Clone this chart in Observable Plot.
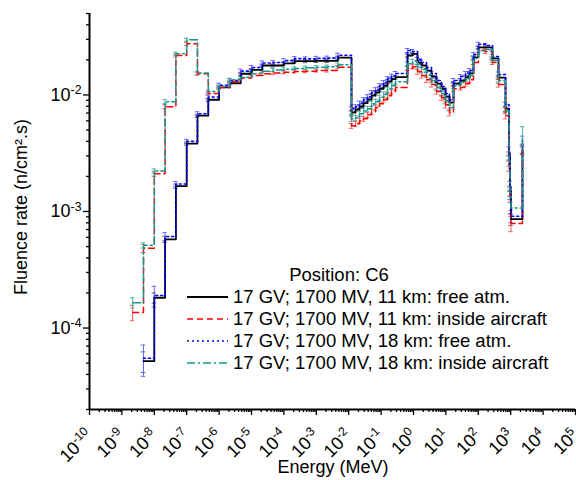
<!DOCTYPE html>
<html><head><meta charset="utf-8">
<script src="https://cdn.jsdelivr.net/npm/d3@7"></script>
<script src="https://cdn.jsdelivr.net/npm/@observablehq/plot@0.6"></script>
<style>
body{margin:0;background:#fff;}
#chart{position:relative;width:576px;height:480px;}
</style></head><body><div id="chart"></div>
<script>
// Energy of each step start (MeV)
const energy = [2.15e-9, 4.64e-9, 1e-8, 2.15e-8, 4.64e-8, 1e-7, 2.15e-7, 4.64e-7, 1e-6, 2.15e-6,
  4.64e-6, 1e-5, 2.15e-5, 4.64e-5, 1e-4, 2.15e-4, 4.64e-4, 1e-3, 2.15e-3, 4.64e-3,
  0.0122, 0.0162, 0.0215, 0.0286, 0.0380, 0.0506, 0.0671, 0.0893, 0.119, 0.158,
  0.209, 0.278, 0.653, 0.931, 1.33, 1.77, 2.52, 3.60, 5.13, 7.31,
  9.72, 12.9, 17.2, 28.2, 40.3, 53.5, 71.1, 101, 167, 274,
  420, 692, 887, 951, 1020, 2310];

const free11 = [null, 5.2e-5, 1.82e-4, 5.77e-4, 1.65e-3, 3.83e-3, 6.64e-3, 9.1e-3, 0.0116, 0.0126,
  0.0152, 0.0164, 0.0179, 0.0179, 0.0187, 0.0195, 0.0195, 0.0196, 0.0196, 0.0209,
  0.00704, 0.00747, 0.00792, 0.00850, 0.00911, 0.00986, 0.0105, 0.0113, 0.0120, 0.0130,
  0.0137, 0.0142, 0.0218, 0.0225, 0.0190, 0.0179, 0.0162, 0.0144, 0.0125, 0.0113,
  0.00966, 0.00858, 0.0125, 0.0133, 0.0142, 0.0153, 0.0210, 0.0256, 0.0256, 0.0206,
  0.0141, 0.00762, 0.00300, 0.00150, 0.00086, 0.00344];

const inside11 = [1.36e-4, 4.83e-4, 2.11e-3, 7.93e-3, 0.0218, 0.0275, 0.0152, 0.0103, 0.0116, 0.0130,
  0.0140, 0.0147, 0.0152, 0.0154, 0.0157, 0.0159, 0.0160, 0.0162, 0.0162, 0.0173,
  0.00544, 0.00566, 0.00601, 0.00625, 0.00676, 0.00718, 0.00777, 0.00841, 0.00911, 0.00986,
  0.0107, 0.0116, 0.0169, 0.0175, 0.0159, 0.0147, 0.0135, 0.0123, 0.0107, 0.00948,
  0.00824, 0.00704, 0.0113, 0.0116, 0.0125, 0.0135, 0.0190, 0.0241, 0.0236, 0.0190,
  0.0123, 0.00663, 0.00246, 0.00136, 0.00079, 0.00344];

const free18 = [null, 5.5e-5, 1.9e-4, 6.1e-4, 1.72e-3, 4.0e-3, 6.9e-3, 9.6e-3, 0.0121, 0.0133,
  0.0160, 0.0172, 0.0188, 0.0190, 0.0197, 0.0205, 0.0204, 0.0206, 0.0207, 0.0219,
  0.00762, 0.00792, 0.00850, 0.00911, 0.00966, 0.0105, 0.0111, 0.0120, 0.0128, 0.0138,
  0.0145, 0.0153, 0.0241, 0.0236, 0.0202, 0.0190, 0.0172, 0.0153, 0.0133, 0.0118,
  0.0103, 0.00911, 0.0133, 0.0144, 0.0153, 0.0162, 0.0222, 0.0272, 0.0266, 0.0214,
  0.0150, 0.00824, 0.00331, 0.00165, 0.00091, 0.00403];

const inside18 = [1.65e-4, 5.13e-4, 2.23e-3, 8.75e-3, 0.0226, 0.0298, 0.0154, 0.0107, 0.0118, 0.0135,
  0.0142, 0.0152, 0.0160, 0.0164, 0.0166, 0.0169, 0.0171, 0.0173, 0.0175, 0.0182,
  0.00625, 0.00637, 0.00690, 0.00732, 0.00762, 0.00841, 0.00875, 0.00948, 0.0101, 0.0111,
  0.0120, 0.0130, 0.0186, 0.0194, 0.0175, 0.0165, 0.0150, 0.0133, 0.0116, 0.0103,
  0.00893, 0.00777, 0.0120, 0.0128, 0.0138, 0.0147, 0.0206, 0.0241, 0.0246, 0.0198,
  0.0133, 0.00732, 0.00271, 0.00144, 0.00107, 0.00445];

// relative uncertainties (error bars)
const errFree11 = [0, 0.2, 0.1, 0.06, 0.04, 0.03, 0.03, 0.03, 0.03, 0.03,
  0.03, 0.03, 0.03, 0.03, 0.03, 0.03, 0.03, 0.03, 0.03, 0.03,
  0.04, 0.04, 0.04, 0.04, 0.04, 0.04, 0.04, 0.04, 0.04, 0.04,
  0.04, 0.04, 0.03, 0.03, 0.04, 0.04, 0.04, 0.04, 0.04, 0.04,
  0.05, 0.05, 0.04, 0.04, 0.04, 0.04, 0.03, 0.03, 0.03, 0.03,
  0.04, 0.05, 0.08, 0.1, 0.12, 0.1];
const errInside11 = [0.15, 0.08, 0.05, 0.04, 0.03, 0.03, 0.03, 0.03, 0.03, 0.03,
  0.03, 0.03, 0.03, 0.03, 0.03, 0.03, 0.03, 0.03, 0.03, 0.03,
  0.05, 0.05, 0.05, 0.05, 0.05, 0.05, 0.05, 0.05, 0.05, 0.05,
  0.05, 0.05, 0.04, 0.04, 0.05, 0.05, 0.05, 0.05, 0.05, 0.05,
  0.06, 0.06, 0.05, 0.05, 0.05, 0.05, 0.04, 0.04, 0.04, 0.04,
  0.05, 0.06, 0.1, 0.12, 0.15, 0.08];
const errFree18 = [0, 0.3, 0.2, 0.08, 0.05, 0.04, 0.04, 0.04, 0.04, 0.04,
  0.04, 0.04, 0.04, 0.04, 0.04, 0.04, 0.04, 0.04, 0.04, 0.04,
  0.04, 0.04, 0.04, 0.04, 0.04, 0.04, 0.04, 0.04, 0.04, 0.04,
  0.04, 0.04, 0.04, 0.04, 0.04, 0.04, 0.04, 0.04, 0.04, 0.04,
  0.05, 0.05, 0.04, 0.04, 0.04, 0.04, 0.04, 0.04, 0.04, 0.04,
  0.05, 0.05, 0.08, 0.1, 0.12, 0.1];
const errInside18 = [0.1, 0.05, 0.04, 0.04, 0.03, 0.03, 0.03, 0.03, 0.03, 0.03,
  0.03, 0.03, 0.03, 0.03, 0.03, 0.03, 0.03, 0.03, 0.03, 0.03,
  0.05, 0.05, 0.05, 0.05, 0.05, 0.05, 0.05, 0.05, 0.05, 0.05,
  0.05, 0.05, 0.04, 0.04, 0.05, 0.05, 0.05, 0.05, 0.05, 0.05,
  0.06, 0.06, 0.05, 0.05, 0.05, 0.05, 0.04, 0.04, 0.04, 0.04,
  0.05, 0.06, 0.1, 0.12, 0.12, 0.2];

const seriesNames = [
  "17 GV; 1700 MV, 11 km: free atm.",
  "17 GV; 1700 MV, 11 km: inside aircraft",
  "17 GV; 1700 MV, 18 km: free atm.",
  "17 GV; 1700 MV, 18 km: inside aircraft"];
const seriesValues = [free11, inside11, free18, inside18];
const seriesErrors = [errFree11, errInside11, errFree18, errInside18];
const seriesColors = ["#000000", "#ff0000", "#0000ff", "#1a978c"];
const errorColors = ["#606060", "#ff5a5a", "#6a6aff", "#4fb3aa"];
const seriesDash = [null, "6,4", "2,3", "8,3,2,3"];
const seriesWidth = [1.8, 1.5, 1.6, 1.5];

const legendTitle = "Position: C6";
const xLabel = "Energy (MeV)";
const yLabel = "Fluence rate (n/cm\u00b2.s)";
const xMajorTicks = [1e-10,1e-9,1e-8,1e-7,1e-6,1e-5,1e-4,1e-3,1e-2,1e-1,1e0,1e1,1e2,1e3,1e4,1e5];
const yMajorTicks = [1e-4, 1e-3, 1e-2];

const xMinorTicks = [];
for (let k = -10; k < 5; k++) for (let m = 2; m <= 9; m++) xMinorTicks.push(m * 10 ** k);
const yMinorTicks = [];
for (let k = -5; k <= -2; k++) for (let m = 2; m <= 9; m++) { const v = m * 10 ** k; if (v >= 2e-5 && v <= 5e-2) yMinorTicks.push(v); }

const rows = [];
seriesValues.forEach((vals, s) => {
  vals.forEach((v, i) => {
    if (v != null) rows.push({s, e: energy[i], f: v, err: seriesErrors[s][i]});
  });
});

const expFmt = d => "10^" + Math.round(Math.log10(d));
const font = "'Liberation Sans', Arial, sans-serif";

const marks = [
  Plot.axisY({ticks: yMinorTicks, tickSize: 3, tickFormat: () => "", label: null, strokeWidth: 1.3}),
  Plot.axisY({ticks: yMajorTicks, tickSize: 6, tickPadding: 2, tickFormat: expFmt, label: null, fontSize: 18, strokeWidth: 1.3}),
  Plot.axisX({ticks: xMinorTicks, tickSize: 3, tickFormat: () => "", label: null, strokeWidth: 1.3}),
  Plot.axisX({ticks: xMajorTicks, tickSize: 6, tickPadding: 17, tickRotate: -45, tickFormat: expFmt, label: null, fontSize: 18, strokeWidth: 1.3}),
  Plot.ruleX([1e-10], {stroke: "black", strokeWidth: 2}),
  Plot.ruleY([2e-5], {stroke: "black", strokeWidth: 2})
];
for (let s = 0; s < 4; s++) {
  const d = rows.filter(r => r.s === s && r.err > 0);
  marks.push(Plot.ruleX(d, {x: "e", y1: r => r.f * (1 - r.err), y2: r => r.f * (1 + r.err), stroke: errorColors[s], strokeWidth: 1}));
  marks.push(Plot.ruleY(d, {y: r => r.f * (1 + r.err), x1: r => r.e / 1.17, x2: r => r.e * 1.17, stroke: errorColors[s], strokeWidth: 1}));
  marks.push(Plot.ruleY(d, {y: r => r.f * (1 - r.err), x1: r => r.e / 1.17, x2: r => r.e * 1.17, stroke: errorColors[s], strokeWidth: 1}));
}
for (let s = 0; s < 4; s++) {
  marks.push(Plot.line(rows.filter(r => r.s === s), {x: "e", y: "f", curve: "step-after",
    stroke: seriesColors[s], strokeWidth: seriesWidth[s], strokeDasharray: seriesDash[s]}));
}

const plot = Plot.plot({
  width: 576, height: 480,
  marginLeft: 89, marginRight: 1, marginTop: 13, marginBottom: 71,
  x: {type: "log", domain: [1e-10, 1e5]},
  y: {type: "log", domain: [2e-5, 5e-2]},
  style: {fontFamily: font, background: "white", color: "black", overflow: "visible"},
  marks
});
document.getElementById("chart").appendChild(plot);

const svg = d3.select(plot);
// superscript exponents on tick labels
svg.selectAll('g[aria-label="x-axis tick label"] text, g[aria-label="y-axis tick label"] text').each(function() {
  const t = this.textContent;
  const m = t.match(/^10\^(.*)$/);
  if (!m) return;
  const sel = d3.select(this);
  sel.text(null);
  sel.append("tspan").text("10");
  sel.append("tspan").attr("dy", "-0.55em").attr("font-size", "0.68em").text(m[1]);
});

// axis titles
const at = svg.append("g").attr("font-family", font).attr("font-size", 18).attr("fill", "black");
at.append("text").attr("x", 333).attr("y", 473).attr("text-anchor", "middle").text(xLabel);
at.append("text").attr("transform", "translate(27,207) rotate(-90)").attr("text-anchor", "middle").text(yLabel);

// legend
const lg = svg.append("g").attr("font-family", font).attr("font-size", 18.5).attr("fill", "black");
lg.append("text").attr("x", 339).attr("y", 281).attr("text-anchor", "middle").text(legendTitle);
seriesNames.forEach((name, i) => {
  const y = 297 + 22 * i;
  lg.append("line").attr("x1", 187).attr("x2", 228).attr("y1", y).attr("y2", y)
    .attr("stroke", seriesColors[i]).attr("stroke-width", seriesWidth[i])
    .attr("stroke-dasharray", seriesDash[i]);
  lg.append("text").attr("x", 233).attr("y", y + 6).attr("text-anchor", "start").text(name);
});
</script></body></html>
